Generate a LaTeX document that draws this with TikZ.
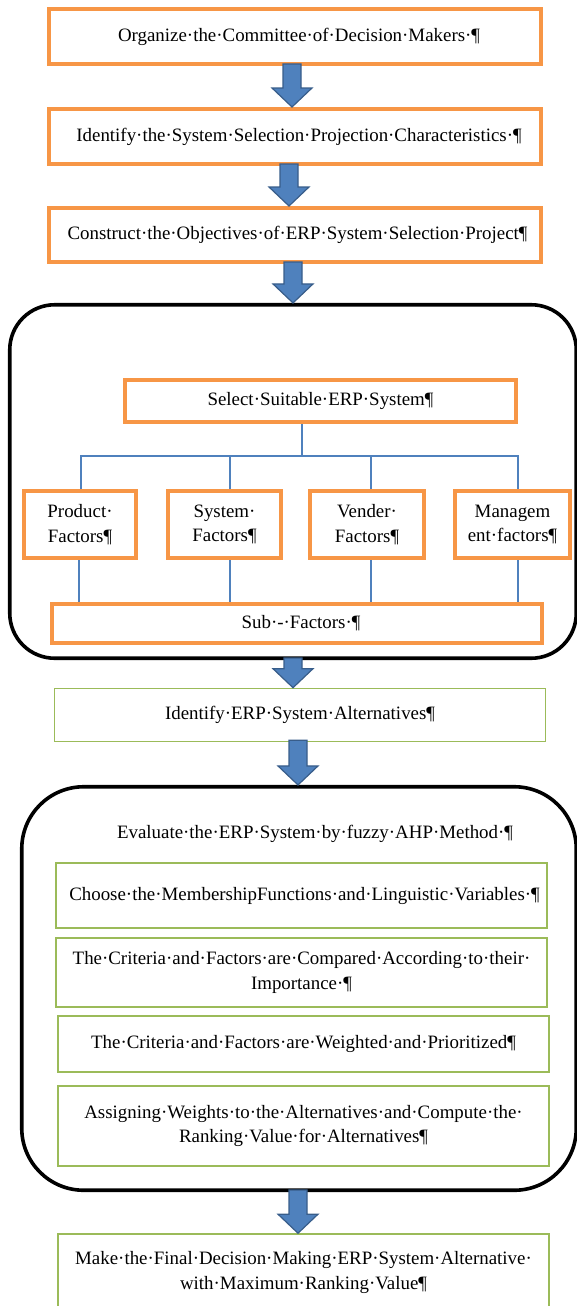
\documentclass[tikz,border=0pt]{standalone}
\usepackage{fontspec}
\setmainfont{Liberation Serif}
\usetikzlibrary{calc}
\definecolor{orangeB}{HTML}{F79646}
\definecolor{greenB}{HTML}{9BBB59}
\definecolor{blueF}{HTML}{4F81BD}
\definecolor{blueL}{HTML}{385D8A}
\newcommand\blockarr[3][0]{%
  \filldraw[barrow] let \p1=($(#2.south)+(#1,0)$), \p2=(#3.north) in
   (\x1-9pt,\y1+2pt) -- (\x1+9pt,\y1+2pt) -- (\x1+9pt,\y2+19pt) -- (\x1+20pt,\y2+19pt)
   -- (\x1,\y2) -- (\x1-20pt,\y2+19pt) -- (\x1-9pt,\y2+19pt) -- cycle;}
\begin{document}
\begin{tikzpicture}[x=1pt,y=-1pt,
  every node/.style={font=\fontsize{18.9}{24.5}\selectfont, inner sep=0pt, align=center},
  obox/.style={draw=orangeB, line width=4pt, fill=white},
  gbox/.style={draw=greenB, line width=1.6pt, fill=white},
  grpbox/.style={draw=black, line width=3.6pt},
  conn/.style={draw=blueF, line width=1.4pt},
  barrow/.style={fill=blueF, draw=blueL, line width=1.2pt, line join=miter},
]
\useasboundingbox (0,0) rectangle (577,1306);
% top chain
\node[obox, minimum width=492pt, minimum height=55pt] (b1) at (295,36.5) {\hspace*{8pt}Organize·the·Committee·of·Decision·Makers·¶};
\node[obox, minimum width=492pt, minimum height=55pt] (b2) at (295,136.5) {\hspace*{8pt}Identify·the·System·Selection·Projection·Characteristics·¶};
\node[obox, minimum width=492pt, minimum height=54pt] (b3) at (295,235) {\hspace*{5pt}Construct·the·Objectives·of·ERP·System·Selection·Project¶};
% group 1
\node[grpbox, rounded corners=45pt, minimum width=566.5pt, minimum height=353.5pt] (grp1) at (293,481.5) {};
\node[obox, minimum width=391pt, minimum height=42pt] (sel) at (320.5,401) {Select·Suitable·ERP·System¶};
\node[obox, minimum width=112pt, minimum height=67pt] (f1) at (80,524.5) {Product·\\Factors¶};
\node[obox, minimum width=113pt, minimum height=67pt] (f2) at (224.5,524.5) {System·\\Factors¶};
\node[obox, minimum width=114pt, minimum height=67pt] (f3) at (367,524.5) {Vender·\\Factors¶};
\node[obox, minimum width=115pt, minimum height=67pt] (f4) at (512.5,524.5) {Managem\\ent·factors¶};
\node[obox, minimum width=490pt, minimum height=39pt] (sub) at (297,623.5) {\hspace*{8pt}Sub·-·Factors·¶};
\coordinate (bus) at (302,456);
\coordinate (d1) at ($(f1.north)+(1,0)$);
\coordinate (d2) at ($(f2.north)+(5.5,0)$);
\coordinate (d3) at ($(f3.north)+(4,0)$);
\coordinate (d4) at ($(f4.north)+(5.5,0)$);
\coordinate (e1) at ($(f1.south)+(-1,0)$);
\coordinate (e2) at ($(f2.south)+(5.5,0)$);
\coordinate (e3) at ($(f3.south)+(4,0)$);
\coordinate (e4) at ($(f4.south)+(5.5,0)$);
\draw[conn] (sel.south -| bus) -- (bus);
\draw[conn] (d1) |- (bus) -| (d4);
\draw[conn] (d2) -- (d2 |- bus);
\draw[conn] (d3) -- (d3 |- bus);
\draw[conn] (e1) -- (e1 |- sub.north);
\draw[conn] (e2) -- (e2 |- sub.north);
\draw[conn] (e3) -- (e3 |- sub.north);
\draw[conn] (e4) -- (e4 |- sub.north);
% alternatives
\node[gbox, minimum width=491pt, minimum height=53pt] (alt) at (300,715) {Identify·ERP·System·Alternatives¶};
% group 2
\node[grpbox, rounded corners=62pt, minimum width=554.5pt, minimum height=403.5pt] (grp2) at (299,988.5) {};
\node (eval) at (315,834) {Evaluate·the·ERP·System·by·fuzzy·AHP·Method·¶};
\node[gbox, minimum width=491.4pt, minimum height=65.4pt] (g1) at (301.5,895.5) {\hspace*{6pt}Choose·the·MembershipFunctions·and·Linguistic·Variables·¶};
\node[gbox, minimum width=491.4pt, minimum height=69.4pt] (g2) at (301.5,972.5) {The·Criteria·and·Factors·are·Compared·According·to·their·\\Importance·¶};
\node[gbox, minimum width=491.4pt, minimum height=56.4pt] (g3) at (303.5,1044) {The·Criteria·and·Factors·are·Weighted·and·Prioritized¶};
\node[gbox, minimum width=491.4pt, minimum height=80.4pt] (g4) at (303.5,1126) {Assigning·Weights·to·the·Alternatives·and·Compute·the·\\Ranking·Value·for·Alternatives¶};
% final
\node[gbox, minimum width=491.4pt, minimum height=77pt] (fin) at (303.5,1272.5) {Make·the·Final·Decision·Making·ERP·System·Alternative·\\with·Maximum·Ranking·Value¶};
% block arrows
\blockarr[-3]{b1}{b2}
\blockarr[-6]{b2}{b3}
\blockarr[-2]{b3}{grp1}
\blockarr[0]{grp1}{alt}
\blockarr[-2]{alt}{grp2}
\blockarr[-1]{grp2}{fin}
\end{tikzpicture}
\end{document}
